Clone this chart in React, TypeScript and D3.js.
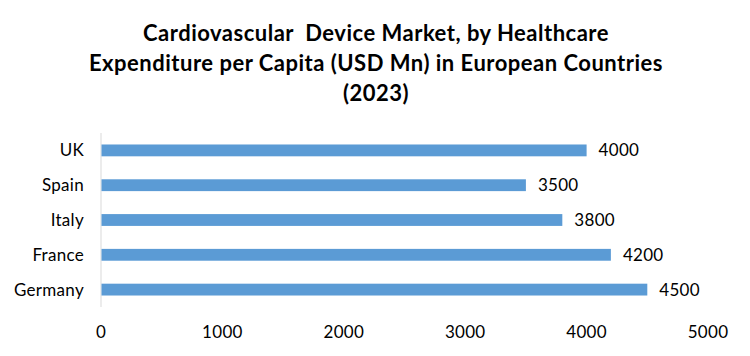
import React from "react";
import * as d3 from "d3";

const countries = ["UK", "Spain", "Italy", "France", "Germany"];
const values = [4000, 3500, 3800, 4200, 4500];
const xTicks = [0, 1000, 2000, 3000, 4000, 5000];
const titleLines = [
  "Cardiovascular  Device Market, by Healthcare",
  "Expenditure per Capita (USD Mn) in European Countries",
  "(2023)",
];

export default function App() {
  const W = 750, H = 356;
  const x = d3.scaleLinear().domain([0, 5000]).range([101, 708]);
  const y = d3.scaleBand().domain(countries).range([133, 307]).paddingInner(0.66).paddingOuter(0.33);
  const font = "Lato, 'Open Sans', sans-serif";
  return (
    <svg width={W} height={H} style={{ position: "absolute", left: 0, top: 0, background: "#fff" }}>
      {titleLines.map((t, i) => (
        <text key={i} x={376} y={41 + i * 30} textAnchor="middle" fontFamily={font} fontWeight="bold" fontSize={22} letterSpacing={0.5} fill="#000" style={{ whiteSpace: "pre" }}>
          {t}
        </text>
      ))}
      <line x1={x(0)} x2={x(0)} y1={133} y2={307} stroke="#d9d9d9" strokeWidth={1} />
      {countries.map((c, i) => (
        <g key={c}>
          <rect x={x(0) + 0.5} y={y(c)!} width={x(values[i]) - x(0) - 0.5} height={y.bandwidth()} fill="#5B9BD5" />
          <text x={x(values[i]) + 12} y={y(c)! + y.bandwidth() / 2} dy="0.35em" fontFamily={font} fontSize={17} letterSpacing={0.3} fill="#000">
            {values[i]}
          </text>
          <text x={84} y={y(c)! + y.bandwidth() / 2} dy="0.35em" textAnchor="end" fontFamily={font} fontSize={17} letterSpacing={0.3} fill="#000">
            {c}
          </text>
        </g>
      ))}
      {xTicks.map((t) => (
        <text key={t} x={x(t)} y={332} dy="0.35em" textAnchor="middle" fontFamily={font} fontSize={17} letterSpacing={0.3} fill="#000">
          {t}
        </text>
      ))}
    </svg>
  );
}
